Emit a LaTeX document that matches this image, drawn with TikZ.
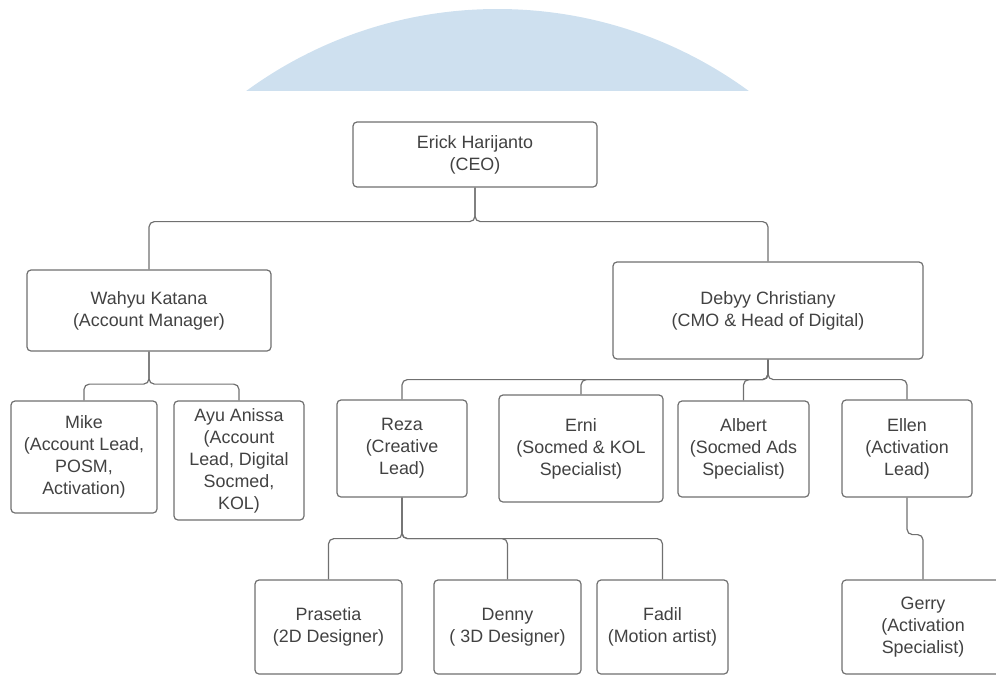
\documentclass[tikz,border=0pt]{standalone}
\usepackage{fontspec}
\setmainfont{Liberation Sans}
\definecolor{circleblue}{RGB}{206,224,239}
\definecolor{boxline}{RGB}{112,112,112}
\definecolor{boxtext}{RGB}{66,66,66}
\usepackage{tikz}
\usetikzlibrary{calc}

\begin{document}
\begin{tikzpicture}[x=0.75pt, y=-0.75pt,
    box/.style 2 args={draw=boxline, line width=0.9pt, rounded corners=3pt,
        fill=white, text=boxtext, align=center, inner sep=0pt,
        minimum width=#1*0.75pt, minimum height=#2*0.75pt,
        font=\fontsize{13.4}{16.5}\selectfont},
    link/.style={draw=boxline, line width=0.9pt, rounded corners=4pt}]
    \useasboundingbox (0,0) rectangle (996,675);
    \clip (0,0) rectangle (996,675);
    % blue disc behind the top
    \begin{scope}
        \clip (0,0) rectangle (996,90);
        \fill[circleblue] (497.5,435) circle[radius=319.5pt];
    \end{scope}
    % top
    \node[box={244}{65}] (erick) at (475,154.5) {Erick Harijanto\\(CEO)};
    \node[box={244}{81}] (wahyu) at (149,310.5) {Wahyu Katana\\(Account Manager)};
    \node[box={310}{97}] (debyy) at (768,310.5) {Debyy Christiany\\(CMO \& Head of Digital)};
    % second row
    \node[box={146}{112}] (mike) at (84,457) {Mike\\(Account Lead,\\POSM,\\Activation)};
    \node[box={130}{119}] (ayu) at (239,460.5) {Ayu Anissa\\(Account\\Lead, Digital\\Socmed,\\KOL)};
    \node[box={130}{97}] (reza) at (402,448.5) {Reza\\(Creative\\Lead)};
    \node[box={164}{107}] (erni) at (581,448.5) {Erni\\(Socmed \& KOL\\Specialist)};
    \node[box={131}{96}] (albert) at (743.5,449) {Albert\\(Socmed Ads\\Specialist)};
    \node[box={130}{97}] (ellen) at (907,448.5) {Ellen\\(Activation\\Lead)};
    % bottom row
    \node[box={147}{94}] (prasetia) at (328.5,627) {Prasetia\\(2D Designer)};
    \node[box={147}{94}] (denny) at (507.5,627) {Denny\\( 3D Designer)};
    \node[box={131}{94}] (fadil) at (662.5,627) {Fadil\\(Motion artist)};
    \node[box={162}{94}] (gerry) at (923,627) {Gerry\\(Activation\\Specialist)};
    % lines
    \draw[link] (erick.south) -- ++(0,34) -| (wahyu.north);
    \draw[link] (erick.south) -- ++(0,34) -| (debyy.north);
    \foreach \c in {mike,ayu}
        \draw[link] (wahyu.south) -- ++(0,32.5) -| (\c.north);
    \foreach \c in {reza,erni,albert,ellen}
        \draw[link] (debyy.south) -- ++(0,20) -| (\c.north);
    \foreach \c in {prasetia,denny,fadil}
        \draw[link] (reza.south) -- ++(0,41) -| (\c.north);
    \draw[link] (ellen.south) -- ++(0,37) -| (gerry.north);
\end{tikzpicture}
\end{document}
